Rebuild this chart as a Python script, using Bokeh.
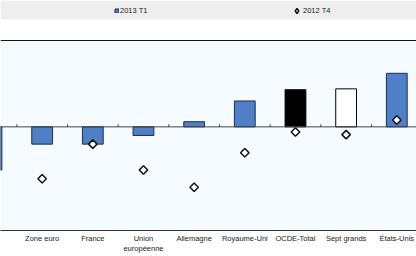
from bokeh.plotting import figure
from bokeh.models import (Range1d, FixedTicker, Span, BoxAnnotation, Legend, LegendItem,
                          ColumnDataSource)
from bokeh.embed import file_html
from bokeh.resources import INLINE
import math

# ---- data ----
categories = ["Italie", "Zone euro", "France", "Union\neuropéenne", "Allemagne",
              "Royaume-Uni", "OCDE-Total", "Sept grands", "États-Unis"]
q1_2013 = [-0.5, -0.2, -0.2, -0.1, 0.06, 0.3, 0.43, 0.44, 0.62]
q4_2012 = [-0.9, -0.6, -0.2, -0.5, -0.7, -0.3, -0.06, -0.09, 0.08]
bar_fill = ["#4f7fc4"] * 6 + ["#000000", "#ffffff", "#4f7fc4"]
bar_line = ["#1c2f55"] * 6 + ["#000000", "#000000", "#1c2f55"]
series_names = ["2013 T1", "2012 T4"]

idx = list(range(len(categories)))
src = ColumnDataSource(dict(x=idx, q1=q1_2013, q4=q4_2012, fill=bar_fill, line=bar_line))

p = figure(frame_width=416, frame_height=230, output_backend="svg", toolbar_location=None,
           x_range=Range1d(0.178, 8.389), y_range=Range1d(-1.2, 1.463),
           min_border_left=0, min_border_right=0, min_border_top=0, min_border_bottom=26,
           background_fill_color="#ffffff", border_fill_color="#ffffff")
p.outline_line_color = None
p.grid.visible = False
p.yaxis.visible = False

# backgrounds
p.add_layout(BoxAnnotation(bottom=-1.2, top=1.0, fill_color="#f5fbfe", fill_alpha=1,
                           line_color=None, level="underlay"))
p.add_layout(BoxAnnotation(bottom=1.243, fill_color="#eeeeee", fill_alpha=1,
                           line_color=None, level="underlay"))
p.add_layout(Span(location=1.0, dimension="width", line_color="#111111", line_width=1))

bars = p.vbar(x="x", top="q1", bottom=0, width=0.41, source=src,
              fill_color="fill", line_color="line", line_width=1)
p.add_layout(Span(location=0, dimension="width", line_color="#444444", line_width=1))
p.segment(x0=[i + 0.5 for i in idx], x1=[i + 0.5 for i in idx],
          y0=[0] * len(idx), y1=[0.03] * len(idx), line_color="#444444", line_width=1)
pts = p.scatter(x="x", y="q4", source=src, marker="square", angle=math.pi / 4, size=6,
                fill_color="#ffffff", line_color="#111111", line_width=1.5)
# legend-only marker (not placed in the plot)
pts_key = p.scatter(x=[float("nan")], y=[float("nan")], marker="diamond", size=6,
                    fill_color="#ffffff", line_color="#111111", line_width=1.5)

ax = p.xaxis[0]
ax.ticker = FixedTicker(ticks=idx)
ax.major_label_overrides = {i: c for i, c in enumerate(categories)}
ax.major_tick_in = 0
ax.major_tick_out = 0
ax.minor_tick_in = 0
ax.minor_tick_out = 0
ax.axis_line_color = "#333333"
ax.axis_line_width = 1
ax.major_label_standoff = 3
ax.major_label_text_font = "Liberation Sans"
ax.major_label_text_font_size = "7.5px"
ax.major_label_text_color = "#222222"

for name, rend, ind, loc, gsize, standoff in [(series_names[0], bars, 1, (114, 215), 5, 1),
                                              (series_names[1], pts_key, 0, (290, 213), 13, 0)]:
    lg = Legend(items=[LegendItem(label=name, renderers=[rend], index=ind)],
                location=loc, orientation="horizontal", padding=0, margin=0,
                glyph_width=gsize, glyph_height=gsize, label_standoff=standoff, label_height=8,
                label_text_font="Liberation Sans", label_text_font_size="7.5px",
                label_text_color="#222222", background_fill_alpha=0, border_line_color=None)
    p.add_layout(lg)

open("out.html", "w").write(file_html(p, INLINE))
